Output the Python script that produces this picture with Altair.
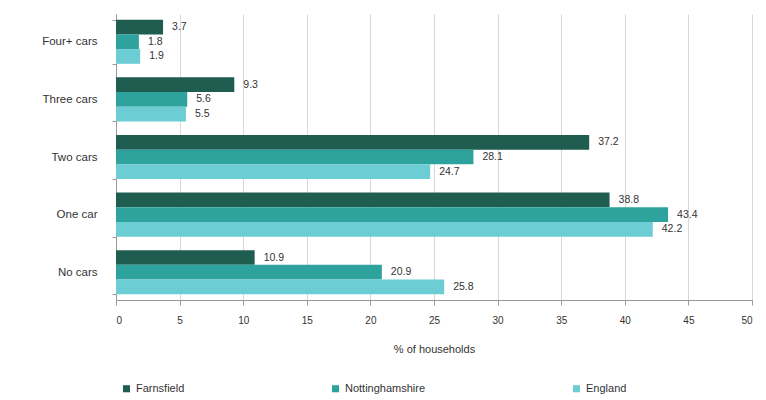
import altair as alt
import pandas as pd

categories = ["Four+ cars", "Three cars", "Two cars", "One car", "No cars"]
series = ["Farnsfield", "Nottinghamshire", "England"]
farnsfield = [3.7, 9.3, 37.2, 38.8, 10.9]
nottinghamshire = [1.8, 5.6, 28.1, 43.4, 20.9]
england = [1.9, 5.5, 24.7, 42.2, 25.8]
colors = ["#1e5d50", "#2ea39e", "#6dcdd5"]

rows = []
for s, vals in zip(series, [farnsfield, nottinghamshire, england]):
    for c, v in zip(categories, vals):
        rows.append({"cat": c, "series": s, "value": v, "label": f"{v:.1f}"})
df = pd.DataFrame(rows)

y = alt.Y("cat:N", sort=categories, title=None,
          scale=alt.Scale(paddingInner=0.235, paddingOuter=0.1),
          axis=alt.Axis(labelFont="Liberation Sans", labelFontSize=11.5, labelColor="#333",
                        domainColor="#999", tickColor="#999", ticks=True, tickBand="extent",
                        tickSize=4, labelPadding=15, minExtent=105, maxExtent=105))
x = alt.X("value:Q", title="% of households",
          scale=alt.Scale(domain=[0, 50], nice=False),
          axis=alt.Axis(values=list(range(0, 55, 5)), labelFont="Liberation Sans", labelFontSize=10,
                        labelColor="#333", titleFont="Liberation Sans", titleFontSize=11,
                        titleFontWeight="normal", titleColor="#333", titlePadding=18,
                        gridColor="#d8d8d8", domainColor="#999", tickColor="#999", labelPadding=10))
yoff = alt.YOffset("series:N", sort=series)
color = alt.Color("series:N", sort=series, scale=alt.Scale(domain=series, range=colors),
                  legend=alt.Legend(title=None, orient="none", legendX=5, legendY=369,
                                    direction="horizontal", symbolType="square", symbolSize=50,
                                    labelFont="Liberation Sans", labelFontSize=11, labelColor="#333",
                                    columnPadding=145, symbolStrokeWidth=0))

bars = alt.Chart(df).mark_bar(height={"band": 1}).encode(x=x, y=y, yOffset=yoff, color=color)
text = alt.Chart(df).mark_text(align="left", dx=9, font="Liberation Sans", fontSize=10.5, color="#333").encode(
    x="value:Q", y=alt.Y("cat:N", sort=categories), yOffset=yoff, text="label:N")

chart = alt.layer(bars, text).properties(
    width=636, height=286,
    padding={"left": 3, "top": 0, "right": 0, "bottom": 0},
).configure_view(stroke=None)
chart.save("out.html", embed_options={"renderer": "svg", "actions": False})
